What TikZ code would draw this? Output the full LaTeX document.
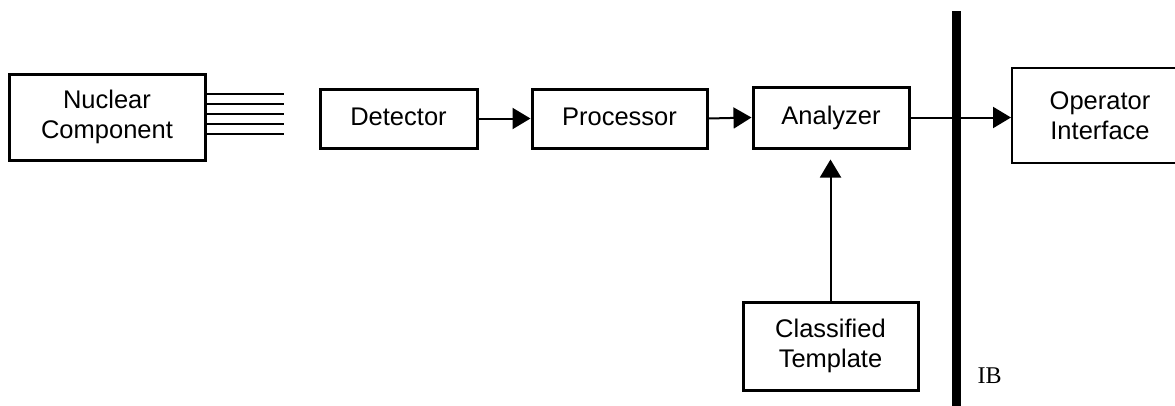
\documentclass[tikz,border=0pt]{standalone}
\usepackage{fontspec}
\setmainfont{Liberation Sans}
\newfontfamily\ibfont{Liberation Serif}
\usetikzlibrary{arrows.meta}
\begin{document}
\begin{tikzpicture}[x=1pt,y=-1pt,
  blk/.style={draw, line width=3pt, rectangle, align=center, inner sep=0pt,
    font=\fontsize{25.5}{30.5}\selectfont},
  oneline/.style={text height=18pt, text depth=5pt},
  thinblk/.style={blk, line width=2pt},
  conn/.style={line width=2pt, -{Triangle[length=18pt,width=21pt]}},
  wire/.style={line width=2pt}]
\useasboundingbox[fill=white] (0,0) rectangle (1175,405);
\clip (0,0) rectangle (1175,405);
\node[blk, minimum width=196pt, minimum height=86pt] (nuc) at (107,117) {Nuclear\\Component};
\node[blk, oneline, minimum width=157pt, minimum height=59pt] (det) at (398.5,118.5) {Detector};
\node[blk, oneline, minimum width=175pt, minimum height=59pt] (proc) at (619.5,118.5) {Processor};
\node[blk, oneline, minimum width=156pt, minimum height=61pt] (ana) at (831,117.5) {Analyzer};
\node[blk, minimum width=175pt, minimum height=88pt] (cls) at (830.5,346) {Classified\\Template};
\node[thinblk, minimum width=176pt, minimum height=95pt] (op) at (1100,115.5) {Operator\\Interface};
\coordinate (ibtop) at (956.5,11);
\coordinate (ibbot) at (956.5,410);
\draw[line width=9pt] (ibtop) -- (ibbot);
\node[font=\ibfont\fontsize{24}{28}\selectfont, inner sep=0pt] (ib) at (989.5,376) {IB};
\foreach \dy in {-23,-13,-3,7,17}
  \draw[wire] ([yshift=-\dy pt]nuc.east) -- ++(77,0);
\draw[conn] (det.east) -- (proc.west);
\draw[conn] (proc.east) -- (ana.west);
\draw[conn] (ana.east) -- (op.west |- ana.east);
\draw[conn, shorten >=10pt] (cls.north) -- (cls.north |- ana.south);
\end{tikzpicture}
\end{document}
